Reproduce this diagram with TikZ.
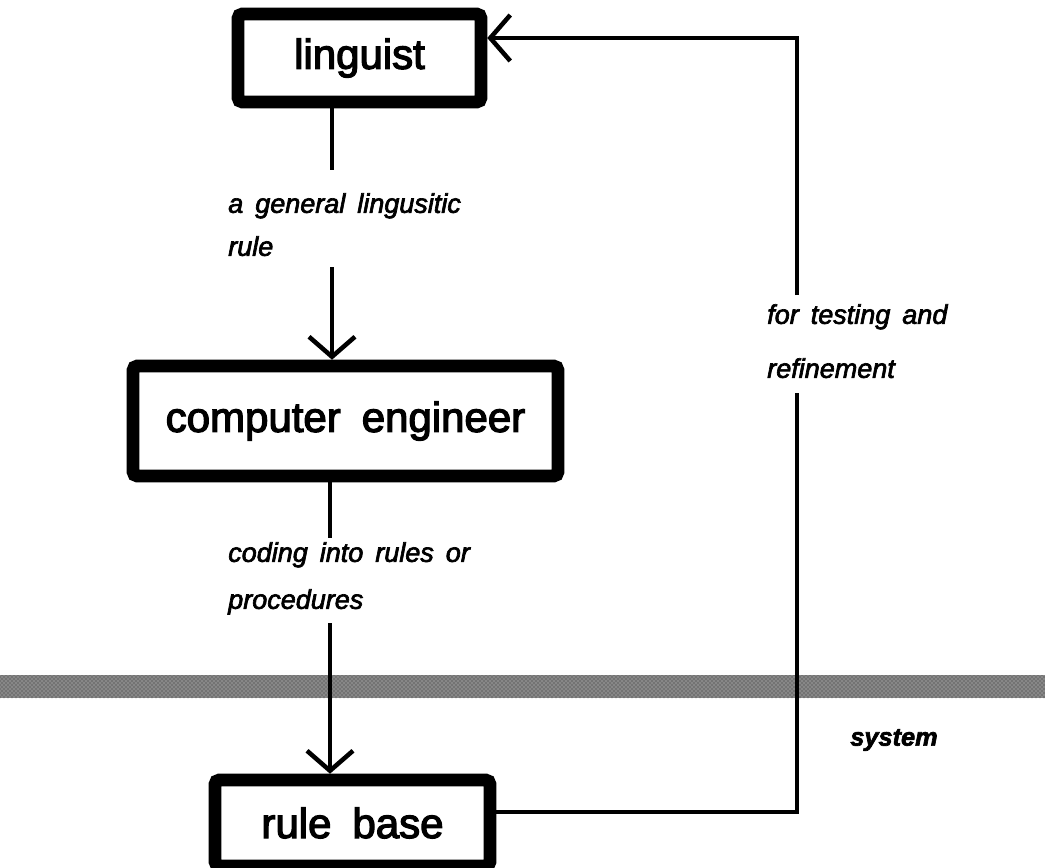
\documentclass[tikz,border=0pt]{standalone}
\usepackage{fontspec}
\usepackage{tikz}
\usetikzlibrary{arrows.meta,patterns}
\newfontfamily\boxfont{Liberation Sans}[FakeBold=3,WordSpace=1.8]
\newfontfamily\lblfont{Liberation Sans}[FakeBold=2.5,WordSpace=1.6]

\begin{document}
\begin{tikzpicture}[x=0.75pt, y=-0.75pt,
    box/.style={draw, line width=9.4pt, rounded corners=3pt, inner sep=0pt,
                font=\boxfont\fontsize{31.5pt}{36pt}\selectfont},
    lbl/.style={anchor=north west, inner sep=0pt, align=left},
    conn/.style={line width=3.4pt},
    arr/.style={conn, -{Straight Barb[length=15pt, width=34.5pt]}}]
  \useasboundingbox (0,0) rectangle (1045,867);
  % system boundary
  \fill[black!55] (0,675) rectangle (1045,698);
  \fill[pattern=crosshatch dots, pattern color=black!20] (0,675) rectangle (1045,698);
  \node[box, minimum width=182.25pt, minimum height=66pt] (ling) at (359.5,58) {linguist};
  \node[box, minimum width=318.75pt, minimum height=82.5pt] (eng) at (345.5,421) {computer engineer};
  \node[box, minimum width=206.25pt, minimum height=64.5pt] (base) at (352.5,823) {rule base};
  \node[lbl, font=\lblfont\itshape\fontsize{20.25pt}{32.25pt}\selectfont] (rulelbl) at (228,193)
    {a general lingusitic\\rule};
  \node[lbl, font=\lblfont\itshape\fontsize{20.25pt}{35.25pt}\selectfont] (codelbl) at (228,542)
    {coding into rules or\\procedures};
  \node[lbl, font=\lblfont\itshape\fontsize{20.25pt}{40.5pt}\selectfont] (testlbl) at (767,304)
    {for testing and\\refinement};
  \node[inner sep=0pt, font=\lblfont\bfseries\itshape\fontsize{19pt}{23pt}\selectfont] (sys) at (894,740) {system};
  % connectors, broken by their labels
  \coordinate (ruleup) at (332,170);
  \coordinate (ruledn) at (332,267);
  \coordinate (codeup) at (330,538);
  \coordinate (codedn) at (330,623);
  \coordinate (turn) at (797,812);
  \coordinate (testdn) at (797,393);
  \coordinate (testup) at (797,295);
  \coordinate (corner) at (797,38);
  \draw[conn] (ling.south -| ruleup) -- (ruleup);
  \draw[arr] (ruledn) -- (eng.north -| ruledn);
  \draw[conn] (eng.south -| codeup) -- (codeup);
  \draw[arr] (codedn) -- (base.north -| codedn);
  \draw[conn] (base.east |- turn) -- (turn) -- (testdn);
  \draw[arr] (testup) -- (corner) -- (ling.east |- corner);
\end{tikzpicture}
\end{document}
